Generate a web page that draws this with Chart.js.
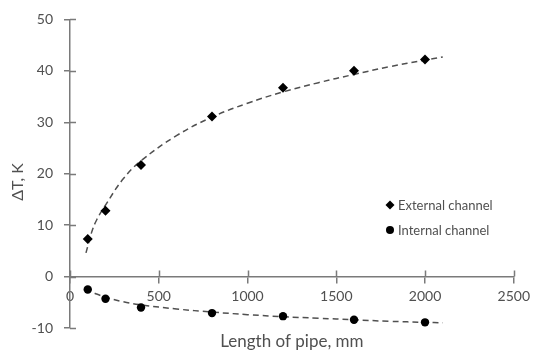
<!DOCTYPE html>
<html>
<head>
<meta charset="utf-8">
<script src="https://cdn.jsdelivr.net/npm/chart.js@4"></script>
<style>
  html, body { margin: 0; padding: 0; background: #fff; }
  #wrap { width: 536px; height: 350px; }
</style>
</head>
<body>
<div id="wrap"><canvas id="chart"></canvas></div>
<script>
"use strict"

// measured points
var lengths = [100, 200, 400, 800, 1200, 1600, 2000];
var externalValues = [7.3, 12.8, 21.7, 31.1, 36.7, 40.0, 42.2];
var internalValues = [-2.5, -4.3, -6.0, -7.1, -7.7, -8.4, -8.9];

// dashed trend curves
var trendLengths = [90, 120, 150, 200, 300, 400, 600, 800, 1000, 1200, 1400, 1600, 1800, 2000, 2100];
var externalTrend = [4.6, 8.4, 11.0, 13.9, 19.0, 22.5, 27.4, 31.0, 33.7, 35.9, 37.7, 39.3, 40.8, 42.1, 42.7];
var internalTrend = [-2.3, -2.9, -3.4, -4.0, -4.9, -5.5, -6.3, -6.9, -7.4, -7.8, -8.1, -8.4, -8.7, -8.9, -9.0];

var xTicks = [0, 500, 1000, 1500, 2000, 2500];
var yTicks = [-10, 0, 10, 20, 30, 40, 50];

var seriesNames = ["External channel", "Internal channel"];
var xTitle = "Length of pipe, mm";
var yTitle = "\u0394T, K";

var toPoints = function (xs, ys) {
    return xs.map(function (x, i) { return { x: x, y: ys[i] }; });
};

var axisColor = "#7a7a7a";
var textColor = "#505050";
var fontFamily = "Lato, 'Open Sans', sans-serif";

// cross ticks (inside half) and the rotated y title
var axisExtras = {
    id: "axisExtras",
    afterDraw: function (chart) {
        var ctx = chart.ctx;
        var xs = chart.scales.x, ys = chart.scales.y;
        var y0 = ys.getPixelForValue(0);
        var x0 = xs.getPixelForValue(0);
        ctx.save();
        ctx.strokeStyle = axisColor;
        ctx.lineWidth = 1.5;
        ctx.beginPath();
        xs.ticks.forEach(function (t, i) {
            var px = Math.round(xs.getPixelForTick(i)) + 0.5;
            ctx.moveTo(px, y0 - 6);
            ctx.lineTo(px, y0);
        });
        ys.ticks.forEach(function (t, i) {
            var py = Math.round(ys.getPixelForTick(i)) + 0.5;
            ctx.moveTo(x0, py);
            ctx.lineTo(x0 + 6, py);
        });
        ctx.stroke();

        ctx.translate(18, 182);
        ctx.rotate(-Math.PI / 2);
        ctx.font = "16px " + fontFamily;
        ctx.fillStyle = textColor;
        ctx.textAlign = "center";
        ctx.textBaseline = "middle";
        ctx.fillText(yTitle, 0, 0);
        ctx.restore();
    }
};

// legend drawn inside the plot, lower right
var insideLegend = {
    id: "insideLegend",
    afterDraw: function (chart) {
        var ctx = chart.ctx;
        var left = 390, top = 205, gap = 25;
        ctx.save();
        ctx.font = "13px " + fontFamily;
        ctx.textBaseline = "middle";
        ctx.textAlign = "left";
        [0, 1].forEach(function (i) {
            var ds = chart.data.datasets[i];
            var cy = top + i * gap;
            ctx.fillStyle = "#000";
            ctx.beginPath();
            if (ds.pointStyle === "rectRot") {
                ctx.moveTo(left, cy - 4.5);
                ctx.lineTo(left + 4.5, cy);
                ctx.lineTo(left, cy + 4.5);
                ctx.lineTo(left - 4.5, cy);
                ctx.closePath();
            } else {
                ctx.arc(left, cy, 4, 0, Math.PI * 2);
            }
            ctx.fill();
            ctx.fillStyle = textColor;
            ctx.fillText(ds.label, left + 8, cy + 1);
        });
        ctx.restore();
    }
};

new Chart(document.getElementById("chart"), {
    type: "scatter",
    data: {
        datasets: [
            {
                label: seriesNames[0],
                data: toPoints(lengths, externalValues),
                pointStyle: "rectRot",
                pointRadius: 5,
                backgroundColor: "#000",
                borderColor: "#000",
                borderWidth: 0,
                order: 0
            },
            {
                label: seriesNames[1],
                data: toPoints(lengths, internalValues),
                pointStyle: "circle",
                pointRadius: 4.2,
                backgroundColor: "#000",
                borderColor: "#000",
                borderWidth: 0,
                order: 0
            },
            {
                type: "line",
                label: "ext trend",
                data: toPoints(trendLengths, externalTrend),
                borderColor: "#505050",
                borderWidth: 1.5,
                borderDash: [6, 4],
                pointRadius: 0,
                tension: 0.4,
                fill: false,
                order: 1
            },
            {
                type: "line",
                label: "int trend",
                data: toPoints(trendLengths, internalTrend),
                borderColor: "#505050",
                borderWidth: 1.5,
                borderDash: [6, 4],
                pointRadius: 0,
                tension: 0.4,
                fill: false,
                order: 1
            }
        ]
    },
    options: {
        responsive: true,
        maintainAspectRatio: false,
        animation: false,
        layout: { padding: { left: 0, right: 19, top: 18, bottom: 0 } },
        plugins: {
            legend: { display: false },
            tooltip: { enabled: false },
            title: {
                display: true,
                position: "bottom",
                fullSize: false,
                text: xTitle,
                color: textColor,
                font: { family: fontFamily, size: 17, weight: "normal", lineHeight: 1 },
                padding: { top: 5, bottom: 0 }
            }
        },
        scales: {
            x: {
                type: "linear",
                position: { y: 0 },
                min: xTicks[0],
                max: xTicks[xTicks.length - 1],
                afterBuildTicks: function (scale) {
                    scale.ticks = xTicks.map(function (v) { return { value: v }; });
                },
                grid: { display: true, drawOnChartArea: false, drawTicks: true, tickLength: 6, color: axisColor, lineWidth: 1.5 },
                border: { display: true, color: axisColor, width: 1.5 },
                ticks: {
                    color: textColor,
                    font: { family: fontFamily, size: 14 },
                    padding: 6,
                    maxRotation: 0,
                    callback: function (v) { return String(v); }
                }
            },
            y: {
                type: "linear",
                min: yTicks[0],
                max: yTicks[yTicks.length - 1],
                afterBuildTicks: function (scale) {
                    scale.ticks = yTicks.map(function (v) { return { value: v }; });
                },
                afterFit: function (scale) { scale.width = 70; },
                grid: { display: true, drawOnChartArea: false, drawTicks: true, tickLength: 6, color: axisColor, lineWidth: 1.5 },
                border: { display: true, color: axisColor, width: 1.5 },
                ticks: {
                    color: textColor,
                    font: { family: fontFamily, size: 14 },
                    padding: 11,
                    callback: function (v) { return String(v); }
                },
                title: { display: false }
            }
        }
    },
    plugins: [axisExtras, insideLegend]
});
</script>
</body>
</html>
